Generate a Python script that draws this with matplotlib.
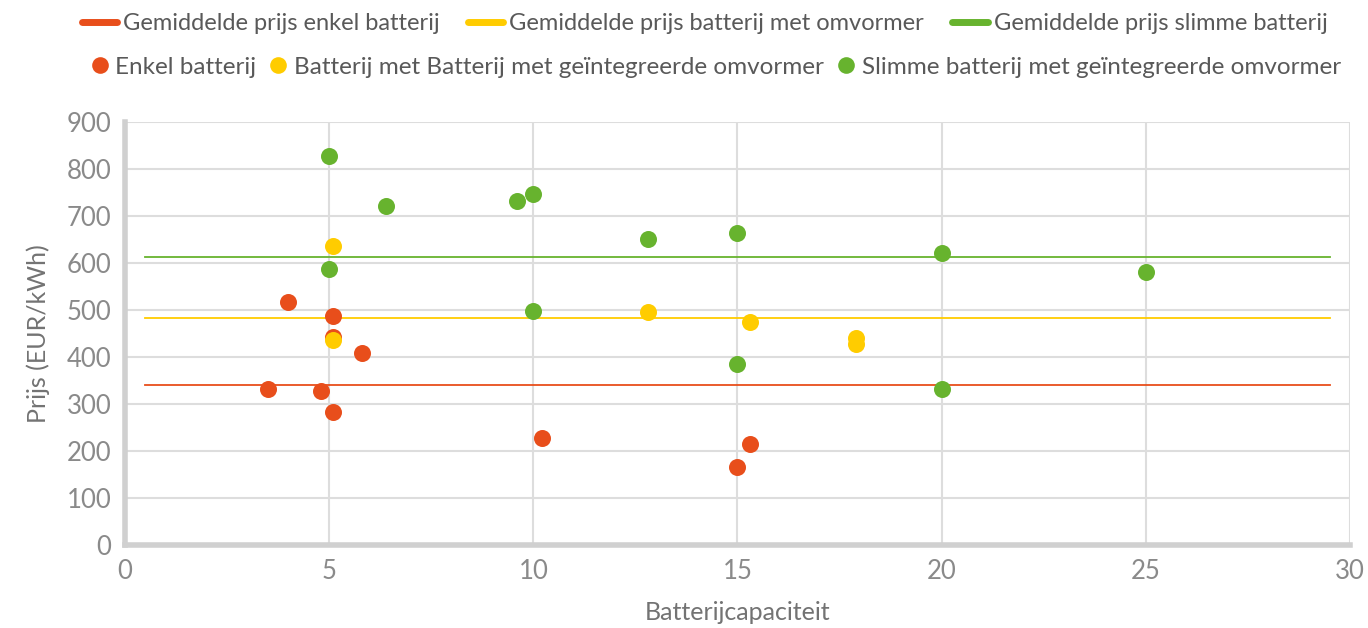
import matplotlib.pyplot as plt
from matplotlib.lines import Line2D

plt.rcParams['font.family'] = ['Lato', 'DejaVu Sans']

# data
enkel_x = [4.0, 5.1, 5.1, 5.8, 3.5, 4.8, 5.1, 10.2, 15.3, 15.0]
enkel_y = [517, 487, 442, 409, 332, 328, 284, 227, 214, 166]
omvormer_x = [5.1, 5.1, 12.8, 15.3, 17.9, 17.9]
omvormer_y = [635, 436, 495, 475, 441, 428]
slim_x = [5.0, 6.4, 9.6, 10.0, 5.0, 12.8, 15.0, 20.0, 25.0, 10.0, 15.0, 20.0]
slim_y = [828, 720, 731, 746, 588, 650, 663, 622, 580, 497, 386, 331]
avg_x = [0.5, 29.5]
avg_enkel = 340
avg_omvormer = 483
avg_slim = 612

red = '#E84E1B'
yellow = '#FFCC00'
green = '#67B32E'
tick_col = '#8A8A8A'
label_col = '#737373'
leg_col = '#595959'

fig = plt.figure(figsize=(13.68, 6.28), dpi=100)
ax = fig.add_axes([0.0914, 0.132, 0.8954, 0.674])

ax.plot(avg_x, [avg_enkel] * 2, color=red, lw=1.3, zorder=2)
ax.plot(avg_x, [avg_omvormer] * 2, color=yellow, lw=1.3, zorder=2)
ax.plot(avg_x, [avg_slim] * 2, color=green, lw=1.3, zorder=2)

ax.scatter(enkel_x, enkel_y, s=150, color=red, lw=0, zorder=3)
ax.scatter(omvormer_x, omvormer_y, s=150, color=yellow, lw=0, zorder=4)
ax.scatter(slim_x, slim_y, s=150, color=green, lw=0, zorder=3)

ax.set_xlim(0, 30)
ax.set_ylim(0, 900)
ax.set_xticks(range(0, 31, 5))
ax.set_yticks(range(0, 901, 100))
ax.grid(True, color='#DDDDDD', lw=1.5, zorder=0)
ax.set_axisbelow(True)
for side in ['top', 'right']:
    ax.spines[side].set_visible(False)
for side in ['left', 'bottom']:
    ax.spines[side].set_color('#D0D0D0')
    ax.spines[side].set_linewidth(4)
ax.tick_params(length=0, labelsize=18.5, colors=tick_col, pad=10)
ax.set_xlabel('Batterijcapaciteit', fontsize=18, color=label_col, labelpad=12)
ax.set_ylabel('Prijs (EUR/kWh)', fontsize=18, color=label_col, labelpad=12)

line_handles = [Line2D([], [], color=c, lw=5, solid_capstyle='round') for c in (red, yellow, green)]
line_labels = ['Gemiddelde prijs enkel batterij', 'Gemiddelde prijs batterij met omvormer',
               'Gemiddelde prijs slimme batterij']
dot_handles = [Line2D([], [], ls='', marker='o', ms=12, mec='none', color=c) for c in (red, yellow, green)]
dot_labels = ['Enkel batterij', 'Batterij met Batterij met geïntegreerde omvormer',
              'Slimme batterij met geïntegreerde omvormer']

fig.legend(line_handles, line_labels, loc='center', bbox_to_anchor=(0.515, 0.962), ncol=3,
           frameon=False, fontsize=17, labelcolor=leg_col, handlelength=1.5,
           handletextpad=0.25, columnspacing=1.2)
fig.legend(dot_handles, dot_labels, loc='center', bbox_to_anchor=(0.523, 0.893), ncol=3,
           frameon=False, fontsize=17.5, labelcolor=leg_col, handlelength=0.8,
           handletextpad=0.25, columnspacing=0.5)

plt.savefig('out.png', dpi=100)
